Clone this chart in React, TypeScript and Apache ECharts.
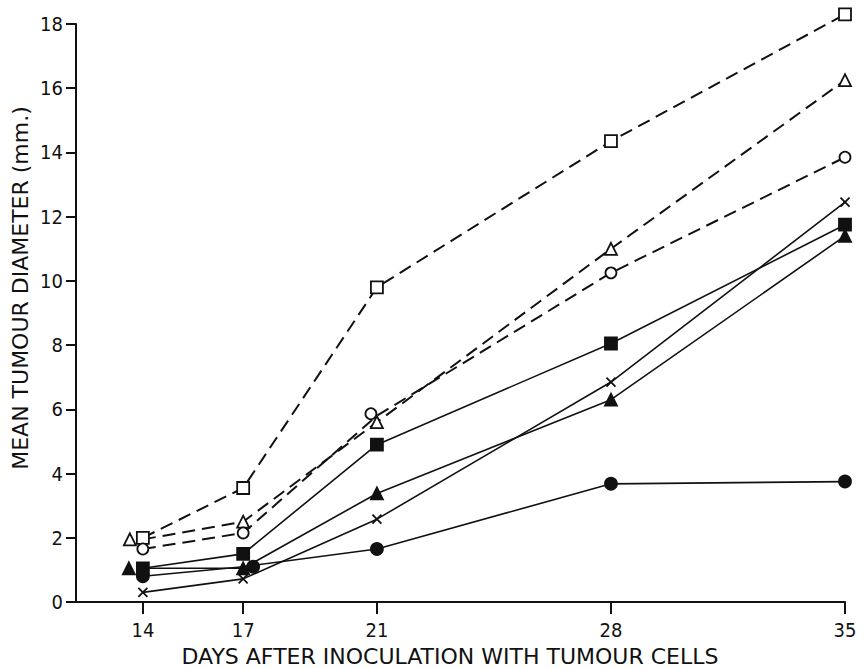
import React, { useEffect, useRef } from "react";
import * as echarts from "echarts";

const days = [14, 17, 21, 28, 35];
const yTicks = [0, 2, 4, 6, 8, 10, 12, 14, 16, 18];
const xTicks = [14, 17, 21, 28, 35];

const openSquare = [2.0, 3.55, 9.8, 14.35, 18.3];
const openTriangle = [1.95, 2.5, 5.6, 11.0, 16.25];
const openCircle = [1.65, 2.15, 5.8, 10.25, 13.85];
const filledSquare = [1.05, 1.5, 4.9, 8.05, 11.75];
const cross = [0.3, 0.72, 2.58, 6.85, 12.45];
const filledTriangle = [1.05, 1.05, 3.38, 6.3, 11.4];
const filledCircle = [0.8, 1.1, 1.65, 3.68, 3.75];

const xTitle = "DAYS AFTER INOCULATION WITH TUMOUR CELLS";
const yTitle = "MEAN TUMOUR DIAMETER (mm.)";

const TICK_FONT = "'DejaVu Sans Condensed', 'Liberation Sans Narrow', 'DejaVu Sans', sans-serif";
const TITLE_FONT = "'DejaVu Sans', sans-serif";
const INK = "#111";

const crossPath = "path://M0,0L10,10M10,0L0,10";

function makeSeries(
  name: string,
  values: number[],
  symbol: string,
  filled: boolean,
  dashed: boolean,
  size: number,
  offsets: Record<number, number[]> = {}
) {
  return {
    name,
    type: "line",
    clip: false,
    symbol,
    symbolSize: size,
    showAllSymbol: true,
    data: values.map((v, i) => {
      const item: any = { value: [days[i], v] };
      if (offsets[i]) item.symbolOffset = offsets[i];
      return item;
    }),
    lineStyle: {
      color: INK,
      width: dashed ? 2 : 1.6,
      type: dashed ? [13, 7] : "solid",
    },
    itemStyle: {
      color: filled ? INK : "#fff",
      borderColor: INK,
      borderWidth: 1.8,
    },
    z: filled ? 3 : 4,
  };
}

export default function App() {
  const ref = useRef<HTMLDivElement>(null);
  useEffect(() => {
    if (!ref.current) return;
    const chart = echarts.init(ref.current, null, { renderer: "svg" });
    const axisLabelStyle = { color: INK, fontFamily: TICK_FONT, fontSize: 20 };
    chart.setOption({
      animation: false,
      backgroundColor: "#fff",
      grid: { left: 76, right: 19, top: 24, bottom: 66 },
      xAxis: {
        type: "value",
        min: 12,
        max: 35,
        axisLine: { show: true, onZero: false, lineStyle: { color: INK, width: 2 } },
        axisTick: {
          show: true,
          inside: false,
          length: 12,
          customValues: xTicks,
          lineStyle: { color: INK, width: 2 },
        },
        axisLabel: { ...axisLabelStyle, margin: 18, customValues: xTicks },
        splitLine: { show: false },
      },
      yAxis: {
        type: "value",
        min: 0,
        max: 18,
        interval: 2,
        axisLine: { show: true, lineStyle: { color: INK, width: 2 } },
        axisTick: { show: true, length: 10, lineStyle: { color: INK, width: 2 } },
        axisLabel: { ...axisLabelStyle, margin: 13, customValues: yTicks },
        splitLine: { show: false },
      },
      graphic: [
        {
          type: "text",
          x: 450,
          y: 656,
          style: {
            text: xTitle,
            fill: INK,
            fontFamily: TITLE_FONT,
            fontSize: 22,
            textAlign: "center",
            textVerticalAlign: "middle",
          },
        },
        {
          type: "text",
          x: 20,
          y: 288,
          rotation: Math.PI / 2,
          style: {
            text: yTitle,
            fill: INK,
            fontFamily: TITLE_FONT,
            fontSize: 22,
            textAlign: "center",
            textVerticalAlign: "middle",
          },
        },
      ],
      series: [
        makeSeries("open square", openSquare, "rect", false, true, 12),
        makeSeries("open triangle", openTriangle, "triangle", false, true, 12, { 0: [-13, 0] }),
        makeSeries("open circle", openCircle, "circle", false, true, 11, { 2: [-6, -2] }),
        makeSeries("filled square", filledSquare, "rect", true, false, 12),
        makeSeries("cross", cross, crossPath, true, false, 9),
        makeSeries("filled triangle", filledTriangle, "triangle", true, false, 12, { 0: [-14, 0] }),
        makeSeries("filled circle", filledCircle, "circle", true, false, 12, { 1: [10, 0] }),
      ],
    });
    return () => chart.dispose();
  }, []);
  return (
    <div
      ref={ref}
      style={{ position: "absolute", left: 0, top: 0, width: 864, height: 668 }}
    />
  );
}
